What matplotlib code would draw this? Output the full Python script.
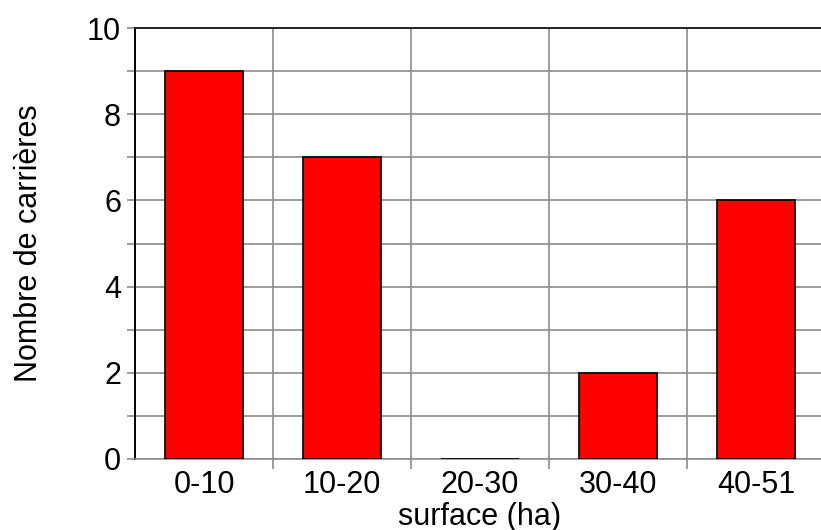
import matplotlib.pyplot as plt
from matplotlib.ticker import MultipleLocator, FixedLocator

plt.rcParams['font.family'] = ['Liberation Sans', 'DejaVu Sans']

categories = ["0-10", "10-20", "20-30", "30-40", "40-51"]
counts = [9, 7, 0, 2, 6]

grid_col = "#8c8c8c"

fig = plt.figure(figsize=(8.21, 5.30), dpi=100)
ax = fig.add_axes([135 / 821, 71 / 530, 690 / 821, 431 / 530])

x = range(len(categories))
ax.bar(x, counts, width=0.56, color="#ff0000", edgecolor="black", linewidth=1.2, zorder=3)

ax.set_xlim(-0.5, len(categories) - 0.5)
ax.set_ylim(0, 10)

ax.set_xticks(list(x))
ax.set_xticklabels(categories, fontsize=22)
ax.xaxis.set_minor_locator(FixedLocator([i + 0.5 for i in range(len(categories) - 1)]))
ax.tick_params(axis="x", which="major", length=0, pad=8)
ax.tick_params(axis="x", which="minor", length=7, width=1.2, color=grid_col, direction="out")

ax.yaxis.set_major_locator(MultipleLocator(2))
ax.yaxis.set_minor_locator(MultipleLocator(1))
ax.tick_params(axis="y", which="both", length=6, width=1.2, color=grid_col, labelsize=22, pad=4)

ax.grid(True, axis="y", which="both", color=grid_col, linewidth=1.2, zorder=0)
ax.grid(True, axis="x", which="minor", color=grid_col, linewidth=1.2, zorder=0)
ax.set_axisbelow(True)

ax.spines["left"].set_color("black")
ax.spines["left"].set_linewidth(1.4)
ax.spines["top"].set_color("#222222")
ax.spines["top"].set_linewidth(1.4)
ax.spines["bottom"].set_color(grid_col)
ax.spines["bottom"].set_linewidth(1.2)
ax.spines["right"].set_visible(False)

ax.set_xlabel("surface (ha)", fontsize=22, labelpad=1)
ax.set_ylabel("Nombre de carrières", fontsize=22, labelpad=31)

fig.savefig("out.png", dpi=100)
